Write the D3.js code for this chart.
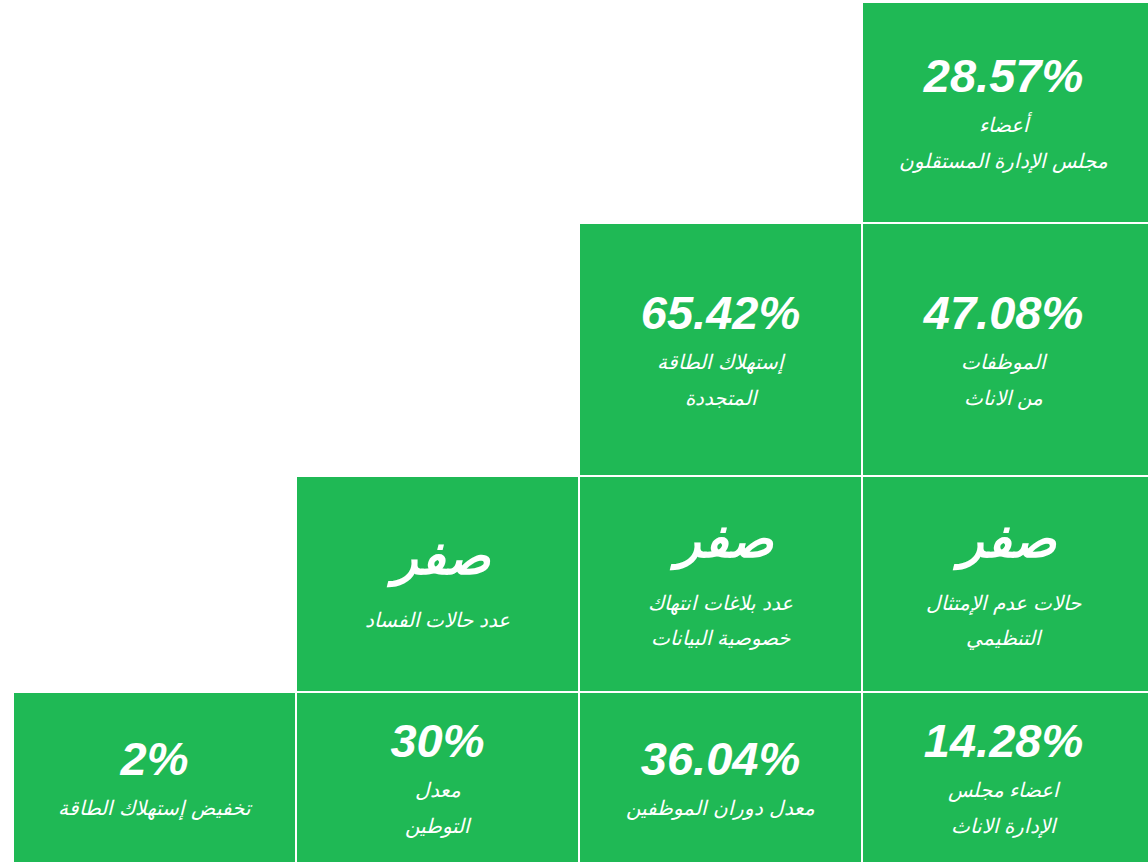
<!DOCTYPE html>
<html>
<head>
<meta charset="utf-8">
<script src="https://cdn.jsdelivr.net/npm/d3@7"></script>
<style>
  body { margin: 0; background: #fff; overflow: hidden; }
</style>
</head>
<body>
<div id="chart"></div>
<script>
// KPI values, labels and their place in the staircase grid
const kpiValues = ['28.57%', '47.08%', '65.42%', 'صفر', 'صفر', 'صفر', '14.28%', '36.04%', '30%', '2%'];
const kpiLabels = [
    ['أعضاء', 'مجلس الإدارة المستقلون'],
    ['الموظفات', 'من الاناث'],
    ['إستهلاك الطاقة', 'المتجددة'],
    ['حالات عدم الإمتثال', 'التنظيمي'],
    ['عدد بلاغات انتهاك', 'خصوصية البيانات'],
    ['عدد حالات الفساد'],
    ['اعضاء مجلس', 'الإدارة الاناث'],
    ['معدل دوران الموظفين'],
    ['معدل', 'التوطين'],
    ['تخفيض إستهلاك الطاقة']
];
const kpiRow = [0, 1, 1, 2, 2, 2, 3, 3, 3, 3];
const kpiCol = [3, 3, 2, 3, 2, 1, 3, 2, 1, 0];

const width = 1148,
    height = 862,
    green = '#1fb955',
    gap = 2,
    gridTop = 3,
    rowHeights = [219, 251, 214, 169],
    numFont = '"Liberation Sans", Arial, "DejaVu Sans", sans-serif';

const data = kpiValues.map((v, i) => ({
    value: v,
    labels: kpiLabels[i],
    row: kpiRow[i],
    col: kpiCol[i],
    numeric: /\d/.test(v)
}));

const x = d3.scaleBand()
    .domain(d3.range(4))
    .range([14, 14 + 4 * 283 - gap])
    .paddingInner(gap / 283)
    .paddingOuter(0);

// row tops from cumulative heights
const rowTop = rowHeights.map((h, i) => gridTop + d3.sum(rowHeights.slice(0, i)) + i * gap);

const svg = d3.select('#chart').append('svg')
    .attr('width', width)
    .attr('height', height)
    .style('display', 'block');

const cell = svg.selectAll('g.cell')
    .data(data)
    .join('g')
    .attr('class', 'cell')
    .attr('transform', d => `translate(${x(d.col)}, ${rowTop[d.row]})`);

cell.append('rect')
    .attr('width', d => d.col === 3 ? width - x(d.col) : x.bandwidth())
    .attr('height', d => rowHeights[d.row])
    .attr('fill', green);

// vertical metrics of the text block (number + label lines)
function metrics(d) {
    return d.numeric
        ? {ascent: 35, first: 38, line: 36, descent: 6, shift: 2}
        : {ascent: 39, first: 53, line: 35, descent: 10, shift: 0};
}

function baseline(d) {
    const m = metrics(d);
    const span = m.ascent + m.first + (d.labels.length - 1) * m.line + m.descent;
    return rowHeights[d.row] / 2 + 2 - span / 2 + m.ascent;
}

cell.append('text')
    .attr('class', 'value')
    .attr('x', d => x.bandwidth() / 2 + (d.numeric ? 0 : 4))
    .attr('y', d => baseline(d))
    .attr('text-anchor', 'middle')
    .attr('fill', '#fff')
    .style('font-family', numFont)
    .style('font-weight', 'bold')
    .style('font-style', 'italic')
    .style('font-size', d => d.numeric ? '47px' : '51px')
    .text(d => d.value);

cell.each(function (d) {
    const m = metrics(d);
    const b = baseline(d);
    d3.select(this).selectAll('text.label')
        .data(d.labels)
        .join('text')
        .attr('class', 'label')
        .attr('x', x.bandwidth() / 2)
        .attr('y', (t, i) => b + m.first + m.shift + i * m.line)
        .attr('text-anchor', 'middle')
        .attr('direction', 'rtl')
        .attr('fill', '#fff')
        .style('font-family', numFont)
        .style('font-style', 'italic')
        .style('font-size', '20px')
        .text(t => t);
});
</script>
</body>
</html>
